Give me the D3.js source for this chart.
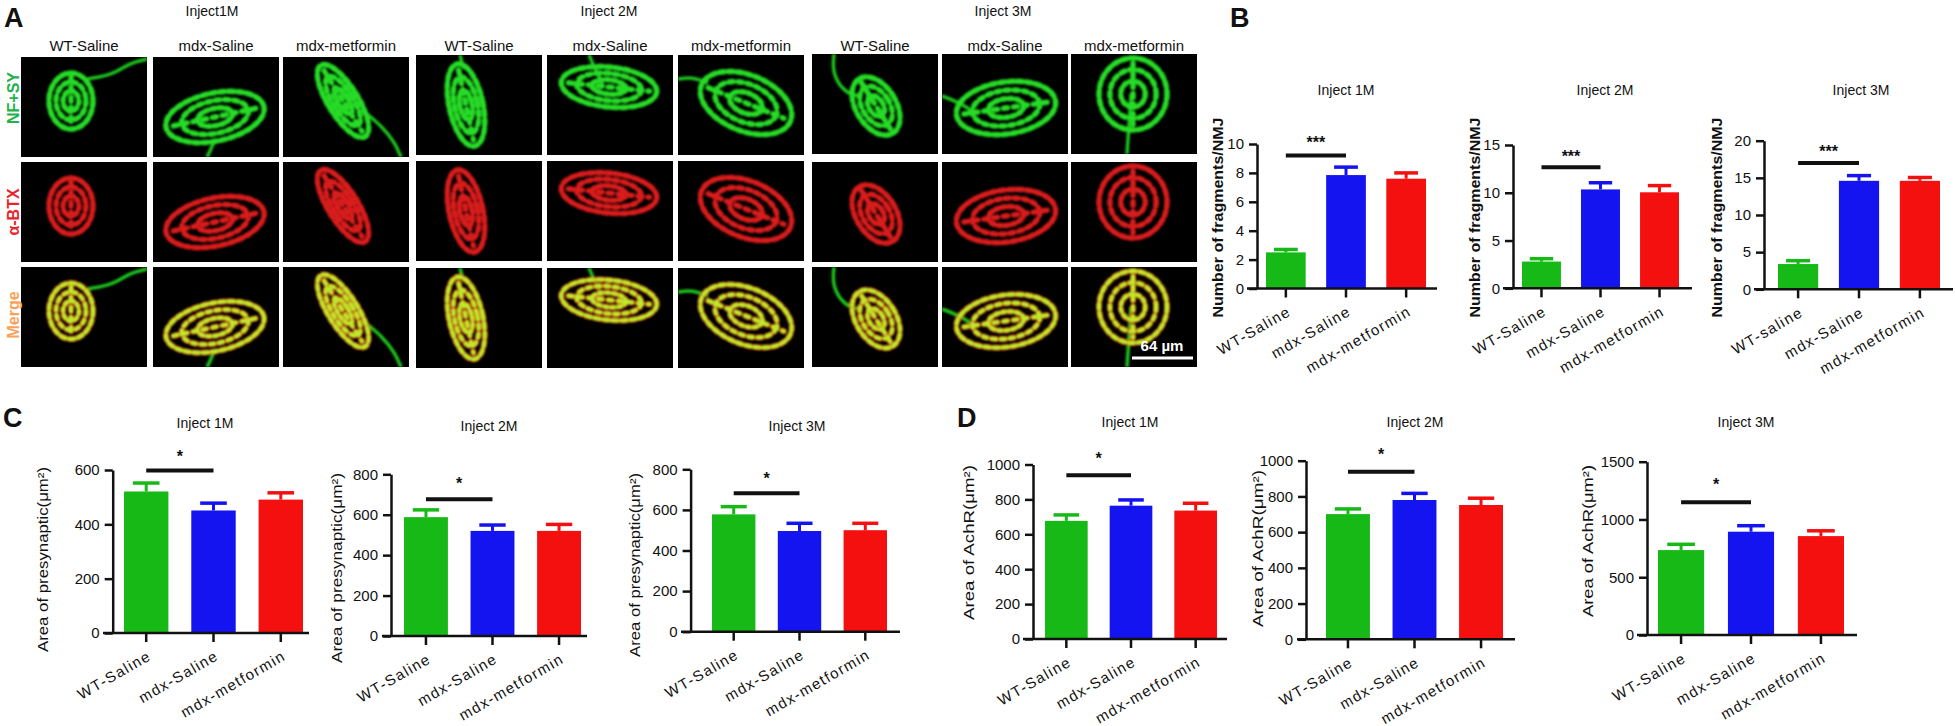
<!DOCTYPE html>
<html>
<head>
<meta charset="utf-8">
<script src="https://cdn.jsdelivr.net/npm/d3@7"></script>
<style>
  body { margin: 0; background: #fff; }
  text { font-family: "Liberation Sans", Arial, sans-serif; fill: #111; }
</style>
</head>
<body>
<div id="fig"></div>
<script>
// Categories
let cats = ["WT-Saline", "mdx-Saline", "mdx-metformin"];
let catsB3 = ["WT-saline", "mdx-Saline", "mdx-metformin"];

// B: number of fragments / NMJ (mean, sem)
let fragMean1M = [2.5, 7.85, 7.6];
let fragErr1M = [0.2, 0.55, 0.4];
let fragMean2M = [2.8, 10.35, 10.05];
let fragErr2M = [0.3, 0.7, 0.7];
let fragMean3M = [3.4, 14.6, 14.6];
let fragErr3M = [0.45, 0.7, 0.45];

// C: area of presynaptic (um2)
let preMean1M = [521, 451, 491];
let preErr1M = [31, 27, 25];
let preMean2M = [588, 520, 520];
let preErr2M = [36, 29, 32];
let preMean3M = [578, 496, 500];
let preErr3M = [38, 38, 34];

// D: area of AchR (um2)
let achMean1M = [677, 764, 736];
let achErr1M = [34, 33, 42];
let achMean2M = [701, 780, 752];
let achErr2M = [29, 37, 38];
let achMean3M = [735, 894, 856];
let achErr3M = [50, 52, 46];

// tick labels
let ticksFrag1M = [0, 2, 4, 6, 8, 10];
let ticksFrag2M = [0, 5, 10, 15];
let ticksFrag3M = [0, 5, 10, 15, 20];
let ticksPre1M = [0, 200, 400, 600];
let ticksPre23 = [0, 200, 400, 600, 800];
let ticksAch12 = [0, 200, 400, 600, 800, 1000];
let ticksAch3M = [0, 500, 1000, 1500];

// significance bars (WT vs mdx-Saline), in data units
let sigLevels = [9.2, 12.66, 17, 598, 677, 682, 939, 938, 1148];
let sigMarks = ["***", "***", "***", "*", "*", "*", "*", "*", "*"];

let timeTitles = ["Inject 1M", "Inject 2M", "Inject 3M"];

let barColors = ["#17b917", "#1414f0", "#f51010"];

let svgWidth = 1955;
let svgHeight = 726;

let svg = d3.select("#fig")
    .append("svg")
    .attr("width", svgWidth)
    .attr("height", svgHeight);

svg.append("rect").attr("width", svgWidth).attr("height", svgHeight).attr("fill", "#fff");

let defs = svg.append("defs");
defs.append("clipPath").attr("id", "imgClip")
    .append("rect").attr("width", 126).attr("height", 100);
defs.append("filter").attr("id", "soft")
    .append("feGaussianBlur").attr("stdDeviation", 0.9);

// ---------------- Panel A (stylised micrographs) ----------------
let colX = [21, 153, 283, 416, 547, 678, 812, 942, 1071];
let rowY = [[57, 162, 267], [55, 161, 268], [54, 162, 267]];
let colHeads = ["WT-Saline", "mdx-Saline", "mdx-metformin"];

// rough outline of each junction inside its 126x100 frame
let nmj = [
    {cx: 50, cy: 44, rx: 22, ry: 28, rot: 0, axon: [[66, 22], [92, 18], [108, 6], [126, 2]]},
    {cx: 62, cy: 60, rx: 50, ry: 24, rot: -12, axon: [[62, 82], [58, 92], [54, 100]]},
    {cx: 60, cy: 44, rx: 15, ry: 42, rot: -32, axon: [[78, 52], [100, 70], [112, 86], [118, 100]]},
    {cx: 50, cy: 50, rx: 17, ry: 42, rot: -12, axon: [[44, 0], [46, 8], [48, 14]]},
    {cx: 62, cy: 32, rx: 48, ry: 20, rot: 6, axon: [[42, 0], [48, 14], [56, 30]]},
    {cx: 68, cy: 48, rx: 48, ry: 28, rot: 22, axon: [[0, 24], [14, 22], [30, 28]]},
    {cx: 64, cy: 52, rx: 20, ry: 32, rot: -32, axon: [[22, 0], [20, 20], [34, 40], [48, 42]]},
    {cx: 64, cy: 54, rx: 50, ry: 26, rot: -8, axon: [[0, 42], [16, 48], [32, 58]]},
    {cx: 62, cy: 40, rx: 34, ry: 36, rot: 0, axon: [[60, 40], [58, 70], [56, 100]]}
];

let rowStyles = [
    {main: "#25dc25", under: null},
    {main: "#d81a1a", under: null},
    {main: "#bfeb2c", under: "#c8200f"}
];

function drawJunction(sel, s, style, withAxon) {
    if (withAxon) {
        sel.append("path")
            .attr("d", d3.line().curve(d3.curveBasis)(s.axon))
            .attr("fill", "none")
            .attr("stroke", "#1fc41f")
            .attr("stroke-width", 3.5);
    }
    let sg = sel.append("g")
        .attr("transform", `translate(${s.cx},${s.cy}) rotate(${s.rot})`);
    let layers = style.under ? [[style.under, 6], [style.main, 4.2]] : [[style.main, 5.5]];
    layers.forEach(function(l) {
        [1, 0.68, 0.36].forEach(function(k, j) {
            sg.append("ellipse")
                .attr("rx", s.rx * k)
                .attr("ry", s.ry * k)
                .attr("fill", "none")
                .attr("stroke", l[0])
                .attr("stroke-width", l[1])
                .attr("stroke-linecap", "round")
                .attr("stroke-dasharray", j === 0 ? "5 4" : j === 1 ? "4 5" : "3 4");
        });
        let major = s.rx > s.ry;
        sg.append("line")
            .attr("x1", major ? -s.rx * 0.85 : 0).attr("x2", major ? s.rx * 0.85 : 0)
            .attr("y1", major ? 0 : -s.ry * 0.85).attr("y2", major ? 0 : s.ry * 0.85)
            .attr("stroke", l[0]).attr("stroke-width", l[1])
            .attr("stroke-linecap", "round").attr("stroke-dasharray", "4 6");
    });
}

colX.forEach(function(x0, i) {
    let grp = Math.floor(i / 3);
    rowY[grp].forEach(function(y0, r) {
        let g = svg.append("g").attr("transform", `translate(${x0},${y0})`);
        g.append("rect").attr("width", 126).attr("height", 100).attr("fill", "#000");
        let inner = g.append("g").attr("clip-path", "url(#imgClip)").attr("filter", "url(#soft)");
        drawJunction(inner, nmj[i], rowStyles[r], r !== 1);
    });
    svg.append("text")
        .attr("x", x0 + 63).attr("y", 51)
        .attr("text-anchor", "middle")
        .attr("font-size", 15)
        .text(colHeads[i % 3]);
});

[["Inject1M", 212], ["Inject 2M", 609], ["Inject 3M", 1003]].forEach(function(t) {
    svg.append("text")
        .attr("x", t[1]).attr("y", 16)
        .attr("text-anchor", "middle")
        .attr("font-size", 14)
        .text(t[0]);
});

[["NF+SY", 98, "#21b24b"], ["α-BTX", 212, "#e8232a"], ["Merge", 315, "#f7a35b"]].forEach(function(t) {
    svg.append("text")
        .attr("transform", `translate(13,${t[1]}) rotate(-90)`)
        .attr("text-anchor", "middle")
        .attr("dominant-baseline", "central")
        .attr("font-size", 16)
        .attr("font-weight", "bold")
        .style("fill", t[2])
        .text(t[0]);
});

// scale bar
svg.append("text")
    .attr("x", 1162).attr("y", 351)
    .attr("text-anchor", "middle")
    .attr("font-size", 15)
    .attr("font-weight", "bold")
    .style("fill", "#fff")
    .text("64 µm");
svg.append("line")
    .attr("x1", 1132).attr("x2", 1193)
    .attr("y1", 358).attr("y2", 358)
    .attr("stroke", "#fff").attr("stroke-width", 3);

// panel letters
[["A", 4, 27], ["B", 1230, 27], ["C", 3, 427], ["D", 957, 427]].forEach(function(t) {
    svg.append("text")
        .attr("x", t[1]).attr("y", t[2])
        .attr("font-size", 27)
        .attr("font-weight", "bold")
        .text(t[0]);
});

// ---------------- Bar charts B, C, D ----------------
let fragLabel = "Number of fragments/NMJ";
let preLabel = "Area of presynaptic(μm²)";
let achLabel = "Area of AchR(μm²)";

let charts = [
    {cats: cats, mean: fragMean1M, err: fragErr1M, max: 10, ticks: ticksFrag1M, title: timeTitles[0], ylab: fragLabel,
     yAx: 1257, xStart: 1247, xEnd: 1437, barL: 1266, barR: 1426, y0: 288.5, yTop: 144,
     tx: 1346, ty: 95, lx: 1217, ly: 217.5, lLen: 200, lBold: true, starOff: 17},
    {cats: cats, mean: fragMean2M, err: fragErr2M, max: 15, ticks: ticksFrag2M, title: timeTitles[1], ylab: fragLabel,
     yAx: 1513, xStart: 1503, xEnd: 1692, barL: 1522, barR: 1679, y0: 288.3, yTop: 145,
     tx: 1605, ty: 95, lx: 1474, ly: 217.5, lLen: 200, lBold: true, starOff: 14},
    {cats: catsB3, mean: fragMean3M, err: fragErr3M, max: 20, ticks: ticksFrag3M, title: timeTitles[2], ylab: fragLabel,
     yAx: 1764, xStart: 1754, xEnd: 1953, barL: 1778, barR: 1940, y0: 289.3, yTop: 140.7,
     tx: 1861, ty: 95, lx: 1716, ly: 217.5, lLen: 200, lBold: true, starOff: 15},
    {cats: cats, mean: preMean1M, err: preErr1M, max: 600, ticks: ticksPre1M, title: timeTitles[0], ylab: preLabel,
     yAx: 112.7, xStart: 103, xEnd: 309, barL: 124, barR: 303, y0: 633, yTop: 470,
     tx: 205, ty: 428, lx: 42, ly: 559.5, lLen: 185, lBold: false, starOff: 18},
    {cats: cats, mean: preMean2M, err: preErr2M, max: 800, ticks: ticksPre23, title: timeTitles[1], ylab: preLabel,
     yAx: 391, xStart: 382, xEnd: 587, barL: 404, barR: 581, y0: 636, yTop: 474.3,
     tx: 489, ty: 431, lx: 336, ly: 568, lLen: 190, lBold: false, starOff: 19},
    {cats: cats, mean: preMean3M, err: preErr3M, max: 800, ticks: ticksPre23, title: timeTitles[2], ylab: preLabel,
     yAx: 690.6, xStart: 681, xEnd: 900, barL: 712, barR: 887, y0: 631.7, yTop: 469.3,
     tx: 797, ty: 431, lx: 634, ly: 565, lLen: 184, lBold: false, starOff: 18},
    {cats: cats, mean: achMean1M, err: achErr1M, max: 1000, ticks: ticksAch12, title: timeTitles[0], ylab: achLabel,
     yAx: 1033, xStart: 1023, xEnd: 1227, barL: 1045, barR: 1217, y0: 639, yTop: 464.5,
     tx: 1130, ty: 427, lx: 968, ly: 542.5, lLen: 155, lBold: false, starOff: 20},
    {cats: cats, mean: achMean2M, err: achErr2M, max: 1000, ticks: ticksAch12, title: timeTitles[1], ylab: achLabel,
     yAx: 1306, xStart: 1297, xEnd: 1515, barL: 1326, barR: 1503, y0: 639.3, yTop: 460.7,
     tx: 1415, ty: 427, lx: 1257, ly: 548.5, lLen: 157, lBold: false, starOff: 21},
    {cats: cats, mean: achMean3M, err: achErr3M, max: 1500, ticks: ticksAch3M, title: timeTitles[2], ylab: achLabel,
     yAx: 1647, xStart: 1637, xEnd: 1857, barL: 1658, barR: 1844, y0: 635, yTop: 461.7,
     tx: 1746, ty: 427, lx: 1587, ly: 541, lLen: 152, lBold: false, starOff: 21}
];

charts.forEach(function(c, ci) {
    let x = d3.scaleBand()
        .domain(c.cats)
        .range([c.barL, c.barR])
        .paddingInner(0.34)
        .paddingOuter(0);
    let y = d3.scaleLinear()
        .domain([0, c.max])
        .range([c.y0, c.yTop]);
    let bw = x.bandwidth();
    let rows = c.cats.map((k, i) => ({cat: k, mean: c.mean[i], err: c.err[i], color: barColors[i]}));

    let g = svg.append("g");

    // bars
    g.selectAll("rect.bar")
        .data(rows)
        .enter()
        .append("rect")
        .attr("class", "bar")
        .attr("x", d => x(d.cat))
        .attr("width", bw)
        .attr("y", d => y(d.mean))
        .attr("height", d => c.y0 - y(d.mean))
        .attr("fill", d => d.color);

    // error bars (upper half only)
    g.selectAll("line.err")
        .data(rows)
        .enter()
        .append("line")
        .attr("x1", d => x(d.cat) + bw / 2)
        .attr("x2", d => x(d.cat) + bw / 2)
        .attr("y1", d => y(d.mean))
        .attr("y2", d => y(d.mean + d.err))
        .attr("stroke", d => d.color)
        .attr("stroke-width", 3);
    g.selectAll("line.cap")
        .data(rows)
        .enter()
        .append("line")
        .attr("x1", d => x(d.cat) + bw * 0.2)
        .attr("x2", d => x(d.cat) + bw * 0.8)
        .attr("y1", d => y(d.mean + d.err))
        .attr("y2", d => y(d.mean + d.err))
        .attr("stroke", d => d.color)
        .attr("stroke-width", 3.5);

    // y axis
    let yAxis = d3.axisLeft(y)
        .tickValues(c.ticks)
        .tickFormat(d3.format("d"))
        .tickSize(8)
        .tickSizeOuter(0)
        .tickPadding(5);
    let ya = g.append("g")
        .attr("transform", `translate(${c.yAx},0)`)
        .call(yAxis);
    ya.select(".domain").attr("stroke", "#111").attr("stroke-width", 2.5);
    ya.selectAll(".tick line").attr("stroke", "#111").attr("stroke-width", 2.5);
    ya.selectAll(".tick text")
        .attr("font-size", 15)
        .style("font-family", "'Liberation Sans', Arial, sans-serif")
        .style("fill", "#111");

    // x axis
    let xAxis = d3.axisBottom(x).tickSize(9).tickSizeOuter(0);
    let xa = g.append("g")
        .attr("transform", `translate(0,${c.y0})`)
        .call(xAxis);
    xa.select(".domain").remove();
    xa.selectAll(".tick line").attr("stroke", "#111").attr("stroke-width", 2.5);
    xa.selectAll(".tick text")
        .attr("x", 0).attr("y", 0).attr("dy", 0)
        .attr("text-anchor", "end")
        .attr("transform", "translate(6,26) rotate(-30)")
        .attr("font-size", 15)
        .attr("letter-spacing", 1.4)
        .style("font-family", "'Liberation Sans', Arial, sans-serif")
        .style("fill", "#111");
    g.append("line")
        .attr("x1", c.xStart).attr("x2", c.xEnd)
        .attr("y1", c.y0).attr("y2", c.y0)
        .attr("stroke", "#111").attr("stroke-width", 2.5);

    // title
    g.append("text")
        .attr("x", c.tx).attr("y", c.ty)
        .attr("text-anchor", "middle")
        .attr("font-size", 14)
        .text(c.title);

    // y label
    g.append("text")
        .attr("transform", `translate(${c.lx},${c.ly}) rotate(-90)`)
        .attr("text-anchor", "middle")
        .attr("dominant-baseline", "central")
        .attr("font-size", 15)
        .attr("font-weight", c.lBold ? "bold" : "normal")
        .attr("textLength", c.lLen)
        .attr("lengthAdjust", "spacingAndGlyphs")
        .text(c.ylab);

    // significance
    let sx1 = x(c.cats[0]) + bw / 2;
    let sx2 = x(c.cats[1]) + bw / 2;
    let sy = y(sigLevels[ci]);
    g.append("line")
        .attr("x1", sx1).attr("x2", sx2)
        .attr("y1", sy).attr("y2", sy)
        .attr("stroke", "#111").attr("stroke-width", 4);
    g.append("text")
        .attr("x", (sx1 + sx2) / 2)
        .attr("y", sy - c.starOff + 9)
        .attr("text-anchor", "middle")
        .attr("font-size", 16)
        .attr("font-weight", "bold")
        .text(sigMarks[ci]);
});
</script>
</body>
</html>
